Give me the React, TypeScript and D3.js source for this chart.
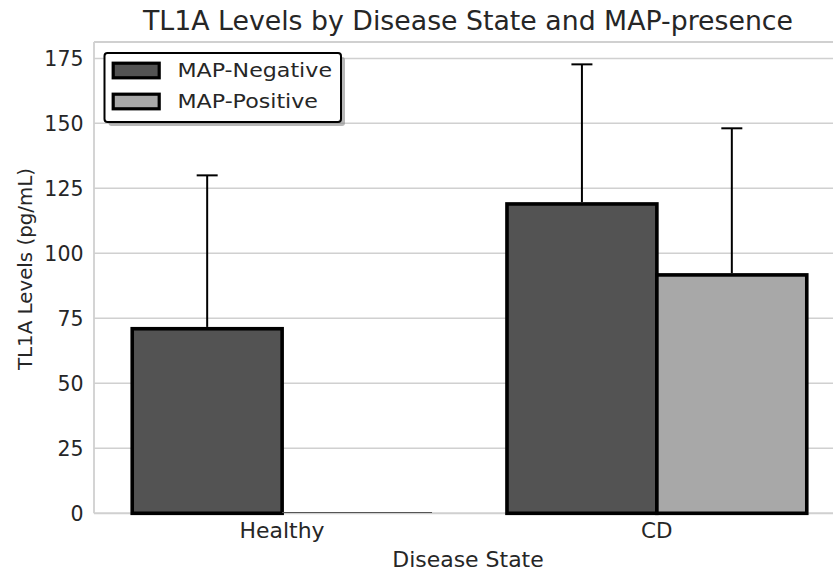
import React from "react";
import * as d3 from "d3";

const categories = ["Healthy", "CD"];
const seriesNames = ["MAP-Negative", "MAP-Positive"];
const negMeans = [71, 119];
const negErrors = [59, 53.7];
const posMeans = [0, 91.7];
const posErrors = [0, 56.4];
const yTicks = [0, 25, 50, 75, 100, 125, 150, 175];

const W = 833;
const H = 573;
const left = 94;
const right = 842;
const top = 42;
const bottom = 513.3;

const colors = ["#535353", "#a8a8a8"];
const textColor = "#262626";
const gridColor = "#d0d0d0";

export default function App() {
  const x = d3.scaleLinear().domain([-0.502, 1.494]).range([left, right]);
  const y = d3.scaleLinear().domain([0, 181.3]).range([bottom, top]);
  const barW = x(0.4) - x(0);

  const series = [
    { name: seriesNames[0], means: negMeans, errs: negErrors, offset: -0.2, color: colors[0] },
    { name: seriesNames[1], means: posMeans, errs: posErrors, offset: 0.2, color: colors[1] },
  ];

  const font = "'DejaVu Sans', sans-serif";

  return (
    <svg
      width={W}
      height={H}
      style={{ position: "fixed", left: 0, top: 0, background: "#fff" }}
      fontFamily={font}
    >
      <rect x={0} y={0} width={W} height={H} fill="#fff" />
      {/* grid */}
      {yTicks.map((t) => (
        <line key={t} x1={left} x2={W} y1={y(t)} y2={y(t)} stroke={gridColor} strokeWidth={1.5} />
      ))}
      {/* spines */}
      <line x1={left} x2={left} y1={top} y2={bottom} stroke={gridColor} strokeWidth={1.8} />
      <line x1={left} x2={W} y1={top} y2={top} stroke={gridColor} strokeWidth={1.8} />
      <line x1={left} x2={W} y1={bottom} y2={bottom} stroke={gridColor} strokeWidth={1.8} />

      {/* bars */}
      {series.map((s) =>
        categories.map((c, i) => {
          const cx = x(i + s.offset);
          const x0 = cx - barW / 2;
          const v = s.means[i];
          if (v === 0) {
            return (
              <line key={s.name + c} x1={x0} x2={x0 + barW} y1={y(0) - 0.8} y2={y(0) - 0.8} stroke="#555" strokeWidth={1.2} />
            );
          }
          return (
            <rect
              key={s.name + c}
              x={x0}
              y={y(v)}
              width={barW}
              height={y(0) - y(v)}
              fill={s.color}
              stroke="#000"
              strokeWidth={3.6}
            />
          );
        })
      )}
      {/* error bars */}
      {series.map((s) =>
        categories.map((c, i) => {
          if (s.errs[i] === 0) return null;
          const cx = x(i + s.offset);
          const yt = y(s.means[i] + s.errs[i]);
          return (
            <g key={"e" + s.name + c} stroke="#000" strokeWidth={2}>
              <line x1={cx} x2={cx} y1={y(s.means[i]) - 1.8} y2={yt} />
              <line x1={cx - 10.5} x2={cx + 10.5} y1={yt} y2={yt} />
            </g>
          );
        })
      )}

      {/* y tick labels */}
      {yTicks.map((t) => (
        <text key={"yt" + t} x={83.5} y={y(t)} dy="0.36em" textAnchor="end" fontSize={20.5} fill={textColor}>
          {t}
        </text>
      ))}
      {/* x tick labels */}
      {categories.map((c, i) => (
        <text
          key={"xt" + c}
          x={x(i)}
          y={538}
          textAnchor="middle"
          fontSize={20.5}
          fill={textColor}
          textLength={c === "Healthy" ? 85 : 31.5}
          lengthAdjust="spacingAndGlyphs"
        >
          {c}
        </text>
      ))}
      {/* axis labels */}
      <text x={(left + right) / 2} y={566.5} textAnchor="middle" fontSize={20.5} fill={textColor} textLength={151.5} lengthAdjust="spacingAndGlyphs">
        Disease State
      </text>
      <text
        transform={`translate(31.7, 269) rotate(-90)`}
        textAnchor="middle"
        fontSize={20}
        fill={textColor}
        textLength={202}
        lengthAdjust="spacingAndGlyphs"
      >
        TL1A Levels (pg/mL)
      </text>
      {/* title */}
      <text x={468} y={29.5} textAnchor="middle" fontSize={26} fill={textColor} textLength={650} lengthAdjust="spacingAndGlyphs">
        TL1A Levels by Disease State and MAP-presence
      </text>

      {/* legend */}
      <rect x={108.5} y={57} width={236.5} height={69} rx={3} fill="#888" opacity={0.6} />
      <rect x={104.5} y={53} width={236.5} height={69} rx={3} fill="#fff" stroke="#000" strokeWidth={2} />
      {series.map((s, k) => (
        <g key={"lg" + s.name}>
          <rect x={113.2} y={63.2 + k * 31} width={46} height={14.6} fill={s.color} stroke="#000" strokeWidth={3.2} />
          <text
            x={177.5}
            y={77 + k * 31}
            fontSize={20}
            fill={textColor}
            textLength={k === 0 ? 154.5 : 140.5}
            lengthAdjust="spacingAndGlyphs"
          >
            {s.name}
          </text>
        </g>
      ))}
    </svg>
  );
}
